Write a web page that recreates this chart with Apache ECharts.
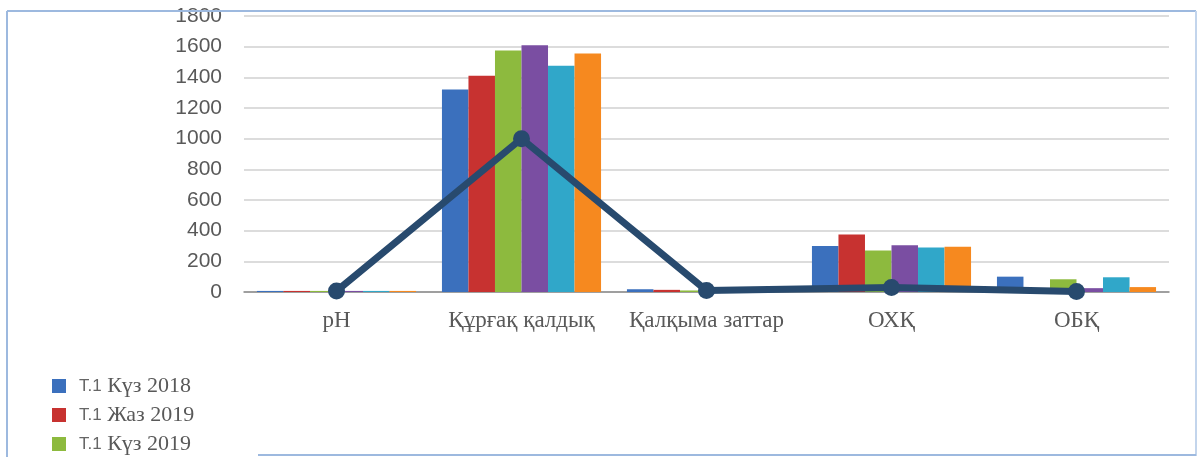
<!DOCTYPE html>
<html>
<head>
<meta charset="utf-8">
<script src="https://cdn.jsdelivr.net/npm/echarts@6/dist/echarts.min.js"></script>
<style>
html,body{margin:0;padding:0;background:#fff;}
#chart{width:1200px;height:457px;}
</style>
</head>
<body>
<div id="chart"></div>
<script>
const categories = ['pH', 'Құрғақ қалдық', 'Қалқыма заттар', 'ОХҚ', 'ОБҚ'];
const seriesNames = ['Т.1 Күз 2018', 'Т.1 Жаз 2019', 'Т.1 Күз 2019', 'Т.1 Жаз 2020', 'Т.1 Күз 2020', 'Т.1 Жаз 2021'];
const s2018autumn = [7, 1320, 18, 300, 100];
const s2019spring = [7, 1410, 14, 375, 20];
const s2019autumn = [7, 1575, 10, 270, 83];
const s2020spring = [7, 1610, 8, 305, 25];
const s2020autumn = [7, 1475, 8, 290, 96];
const s2021spring = [7, 1555, 8, 295, 32];
const normName = 'ШЖК';
const normValues = [7, 1000, 10, 30, 3];
const yTicks = {min: 0, max: 1800, interval: 200};
const legendShown = ['Т.1 Күз 2018', 'Т.1 Жаз 2019', 'Т.1 Күз 2019'];

const barData = [s2018autumn, s2019spring, s2019autumn, s2020spring, s2020autumn, s2021spring];
const colors = ['#3b70bd', '#c73230', '#8dba3e', '#7a4ea2', '#30a7c9', '#f6891f'];

const chart = echarts.init(document.getElementById('chart'));
const series = barData.map((d, i) => ({
  name: seriesNames[i],
  type: 'bar',
  data: d,
  barGap: '0%',
  barCategoryGap: '14%',
  itemStyle: {color: colors[i]},
  z: 2
}));
series.push({
  name: normName,
  type: 'line',
  data: normValues,
  symbol: 'circle',
  symbolSize: 17,
  lineStyle: {color: '#284a6e', width: 7},
  itemStyle: {color: '#284a6e'},
  z: 5
});

chart.setOption({
  animation: false,
  backgroundColor: '#ffffff',
  grid: {left: 244, right: 31, top: 16, bottom: 165},
  legend: {
    data: legendShown,
    orient: 'vertical',
    left: 47,
    top: 370,
    height: 160,
    itemWidth: 14,
    itemHeight: 14,
    itemGap: 7,
    icon: 'rect',
    formatter: function (n) {
      const i = n.indexOf(' ');
      return '{a|' + n.slice(0, i) + '}{b|' + n.slice(i) + '}';
    },
    textStyle: {
      color: '#595959',
      rich: {
        a: {fontFamily: 'Liberation Sans', fontSize: 17, color: '#666666', padding: [0, 0, 0, 8]},
        b: {fontFamily: 'Liberation Serif', fontSize: 22, color: '#595959'}
      }
    }
  },
  xAxis: {
    type: 'category',
    data: categories,
    axisTick: {show: false},
    axisLine: {show: true, lineStyle: {color: '#8a8a8a', width: 1.5}},
    axisLabel: {
      interval: 0,
      margin: 17,
      color: '#595959',
      fontFamily: 'Liberation Serif',
      fontSize: 23
    }
  },
  yAxis: {
    type: 'value',
    min: yTicks.min,
    max: yTicks.max,
    interval: yTicks.interval,
    axisLine: {show: false},
    axisTick: {show: false},
    splitLine: {lineStyle: {color: '#dcdcdc', width: 2}},
    axisLabel: {
      margin: 22,
      color: '#595959',
      fontFamily: 'Liberation Sans',
      fontSize: 21,
      formatter: function (v) { return String(v); }
    }
  },
  graphic: [
    {type: 'line', shape: {x1: 7, y1: 11, x2: 1196, y2: 11}, style: {stroke: '#9db9df', lineWidth: 2}, z: 10},
    {type: 'line', shape: {x1: 7, y1: 11, x2: 7, y2: 457}, style: {stroke: '#9db9df', lineWidth: 2}, z: 10},
    {type: 'line', shape: {x1: 1196, y1: 11, x2: 1196, y2: 456}, style: {stroke: '#c3d5ec', lineWidth: 2}, z: 10},
    {type: 'line', shape: {x1: 258, y1: 455, x2: 1196, y2: 455}, style: {stroke: '#9db9df', lineWidth: 2}, z: 10}
  ],
  series: series
});
</script>
</body>
</html>
